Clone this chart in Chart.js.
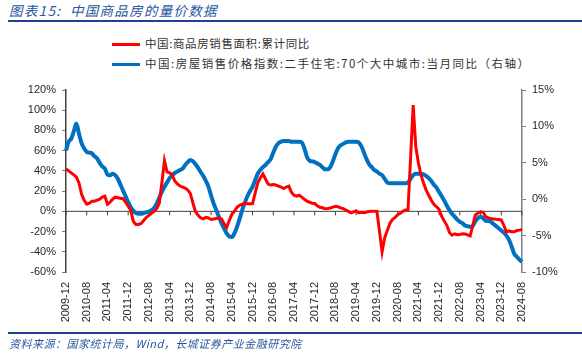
<!DOCTYPE html>
<html>
<head>
<meta charset="utf-8">
<script src="https://cdn.jsdelivr.net/npm/chart.js@4/dist/chart.umd.min.js"></script>
<style>
  body { margin: 0; background: #fff; }
  #wrap { position: relative; width: 582px; height: 354px; overflow: hidden; font-family: "Noto Sans CJK SC", sans-serif; }
  #chart { position: absolute; left: 0; top: 0; }
  .title { position: absolute; left: 9px; top: 0px; font-size: 13.5px; font-style: italic; color: #2A56A0; letter-spacing: 1.3px; }
  .rule { position: absolute; left: 8px; right: 0; height: 2px; background: #1F3F8F; }
  .legend { position: absolute; left: 112px; font-size: 11.5px; color: #333; white-space: nowrap; }
  .legend i { display: inline-block; width: 28px; height: 3px; vertical-align: middle; margin-right: 5px; }
  .source { position: absolute; left: 9px; top: 335px; font-size: 11px; font-style: italic; color: #2A56A0; letter-spacing: 0.5px; }
</style>
</head>
<body>
<div id="wrap">
  <div class="title">图表15:&nbsp; 中国商品房的量价数据</div>
  <div class="rule" style="top:20px"></div>
  <div class="legend" style="top:35px; letter-spacing:0.6px"><i style="background:#FF0000"></i>中国:商品房销售面积:累计同比</div>
  <div class="legend" style="top:55px; letter-spacing:1.5px"><i style="background:#0070C0"></i>中国:房屋销售价格指数:二手住宅:70个大中城市:当月同比（右轴）</div>
  <canvas id="chart" width="582" height="354"></canvas>
  <div class="rule" style="top:332px"></div>
  <div class="source">资料来源：国家统计局，Wind，长城证券产业金融研究院</div>
</div>
<script>
// months 2009-12 .. 2024-08
const months = [];
for (let y = 2009, m = 12; y < 2024 || (y === 2024 && m <= 8); ) {
    months.push(y + '-' + String(m).padStart(2, '0'));
    m++;
    if (m > 12) { m = 1; y++; }
}

// 商品房销售面积:累计同比 (%)
const salesArea = [
    42, 40, 38, 36, 34, 28, 17, 11, 7, 8, 10, 10, 11,
    12, 14, 15, 7, 9, 12, 14, 13.5, 13, 12.5, 9, 5,
    1, -10, -13, -13, -12, -9, -6, -4, -2, 0, 2.6, 8,
    28, 50, 39, 38, 36, 30, 27, 25, 24, 23, 21, 17.5,
    8, -0.5, -4, -6.6, -7.5, -6, -6.5, -8, -7.5, -7, -6.5, -7.5,
    -12, -16, -9, -3, 0, 4, 6, 7, 8, 7.5, 7.5, 7.5,
    18, 28, 33, 37, 32, 27, 26, 26.5, 26, 25, 24, 22.5,
    24, 25, 19, 16, 15, 16, 14, 12, 10, 9, 8, 7.7,
    5.5, 4, 3.5, 2.6, 2.9, 3.3, 4.2, 5, 4.5, 3.5, 2.6, 1.3,
    0, -1.5, -0.5, 0.5, -1.6, -1, -1.3, -0.6, -0.1, 0.1, 0.2, 0,
    -20, -40, -26, -19, -12, -8, -6, -3.5, -1.8, 0, 1.3, 1.3,
    53, 105, 64, 48, 36, 28, 21, 15.9, 11, 7, 4.5, 1.9,
    -5, -9.6, -13.8, -20.9, -23.6, -22.2, -23.1, -23, -22.2, -22.3, -23.3, -24.3,
    -14, -3.6, -1.8, -0.4, -0.9, -5.3, -6.5, -7.1, -7.5, -7.8, -8, -8.5,
    -14, -20.5, -19.4, -20.2, -20.3, -19, -18.6, -18
];

// 二手住宅:70个大中城市:当月同比 (%), right axis
const resalePrice = [
    6.7, 7.9, 8.3, 9.3, 10.4, 9.0, 7.7, 7.0, 6.5, 6.4, 6.3, 5.9, 5.6,
    5.0, 4.5, 4.2, 3.4, 3.3, 3.5, 3.3, 2.8, 2.0, 1.2, 0.4, -0.4,
    -1.1, -1.6, -1.9, -2.0, -2.0, -1.9, -1.8, -1.7, -1.5, -1.2, -0.6, 0.2,
    1.0, 1.7, 2.3, 2.9, 3.3, 3.6, 3.8, 4.0, 4.2, 4.7, 5.1, 5.4,
    5.2, 4.8, 4.3, 3.7, 3.2, 2.5, 1.7, 0.5, -0.6, -1.5, -2.4, -3.3,
    -4.0, -4.7, -5.1, -5.2, -4.7, -3.8, -2.7, -1.5, -0.5, 0.4, 1.1, 1.7,
    2.6, 3.5, 4.0, 4.4, 4.7, 5.1, 5.5, 6.4, 7.2, 7.7, 7.9, 8.0,
    8.0, 8.0, 7.9, 7.9, 7.9, 7.9, 7.8, 7.0, 5.8, 5.3, 5.2, 5.1,
    4.9, 4.7, 4.4, 4.1, 4.1, 4.4, 5.2, 6.2, 7.0, 7.4, 7.6, 7.8,
    7.9, 7.9, 7.9, 7.9, 7.8, 7.3, 6.4, 5.5, 4.8, 4.4, 4.0, 3.8,
    3.5, 3.3, 2.8, 2.3, 2.2, 2.2, 2.2, 2.2, 2.2, 2.2, 2.2, 2.3,
    2.8, 3.3, 3.5, 3.5, 3.5, 3.4, 3.2, 2.9, 2.5, 2.0, 1.6, 1.0,
    0.4, -0.2, -0.9, -1.5, -2.0, -2.4, -2.8, -3.1, -3.3, -3.6, -3.7, -3.8,
    -3.7, -3.0, -2.6, -2.4, -2.6, -3.0, -3.0, -3.1, -3.4, -3.7, -4.0, -4.3,
    -4.6, -5.0, -5.6, -6.5, -7.5, -7.9, -8.3, -8.6
];

const leftTicks = [120, 100, 80, 60, 40, 20, 0, -20, -40, -60];
const rightTicks = [15, 10, 5, 0, -5, -10];

const axisColor = '#7f7f7f';
const tickFont = { family: '"Liberation Sans", "DejaVu Sans", sans-serif', size: 11 };

// zero line with category tick marks, drawn from the scales
const zeroLine = {
    id: 'zeroLine',
    beforeDatasetsDraw(chart) {
        const { ctx, chartArea, scales } = chart;
        const y0 = scales.y.getPixelForValue(0);
        ctx.save();
        ctx.strokeStyle = '#404040';
        ctx.lineWidth = 1;
        ctx.beginPath();
        ctx.moveTo(chartArea.left, y0);
        ctx.lineTo(chartArea.right, y0);
        months.forEach((m, i) => {
            if (i % 8 !== 0) return;
            const x = scales.x.getPixelForValue(i);
            ctx.moveTo(x, y0);
            ctx.lineTo(x, y0 + 4);
        });
        ctx.stroke();
        ctx.restore();
    }
};

new Chart(document.getElementById('chart'), {
    type: 'line',
    data: {
        labels: months,
        datasets: [
            {
                label: '中国:商品房销售面积:累计同比',
                data: salesArea,
                borderColor: '#FF0000',
                borderWidth: 3,
                pointRadius: 0,
                tension: 0,
                yAxisID: 'y'
            },
            {
                label: '中国:房屋销售价格指数:二手住宅:70个大中城市:当月同比（右轴）',
                data: resalePrice,
                borderColor: '#0070C0',
                borderWidth: 4,
                pointRadius: 0,
                cubicInterpolationMode: 'monotone',
                yAxisID: 'y1'
            }
        ]
    },
    options: {
        responsive: false,
        animation: false,
        layout: { padding: { left: 24, right: 20, top: 90, bottom: 32 } },
        plugins: { legend: { display: false }, tooltip: { enabled: false } },
        scales: {
            x: {
                grid: { display: false },
                border: { display: false },
                afterFit(scale) { scale.height = 50; },
                ticks: {
                    autoSkip: false,
                    maxRotation: 90,
                    minRotation: 90,
                    padding: 2,
                    color: '#262626',
                    font: tickFont,
                    callback(v, i) { return i % 8 === 0 ? months[i] : ''; }
                }
            },
            y: {
                position: 'left',
                min: -60,
                max: 120,
                afterFit(scale) { scale.width = 42; },
                afterBuildTicks(scale) { scale.ticks = leftTicks.map(v => ({ value: v })); },
                grid: { drawOnChartArea: false, tickLength: 4, color: axisColor },
                border: { color: '#404040', width: 1.5 },
                ticks: { color: '#262626', font: tickFont, padding: 6, callback: v => v + '%' }
            },
            y1: {
                position: 'right',
                min: -10,
                max: 15,
                afterFit(scale) { scale.width = 40; },
                afterBuildTicks(scale) { scale.ticks = rightTicks.map(v => ({ value: v })); },
                grid: { drawOnChartArea: false, tickLength: 4, color: axisColor },
                border: { color: axisColor, width: 1.5 },
                ticks: { color: '#262626', font: tickFont, padding: 6, callback: v => v + '%' }
            }
        }
    },
    plugins: [zeroLine]
});
</script>
</body>
</html>
